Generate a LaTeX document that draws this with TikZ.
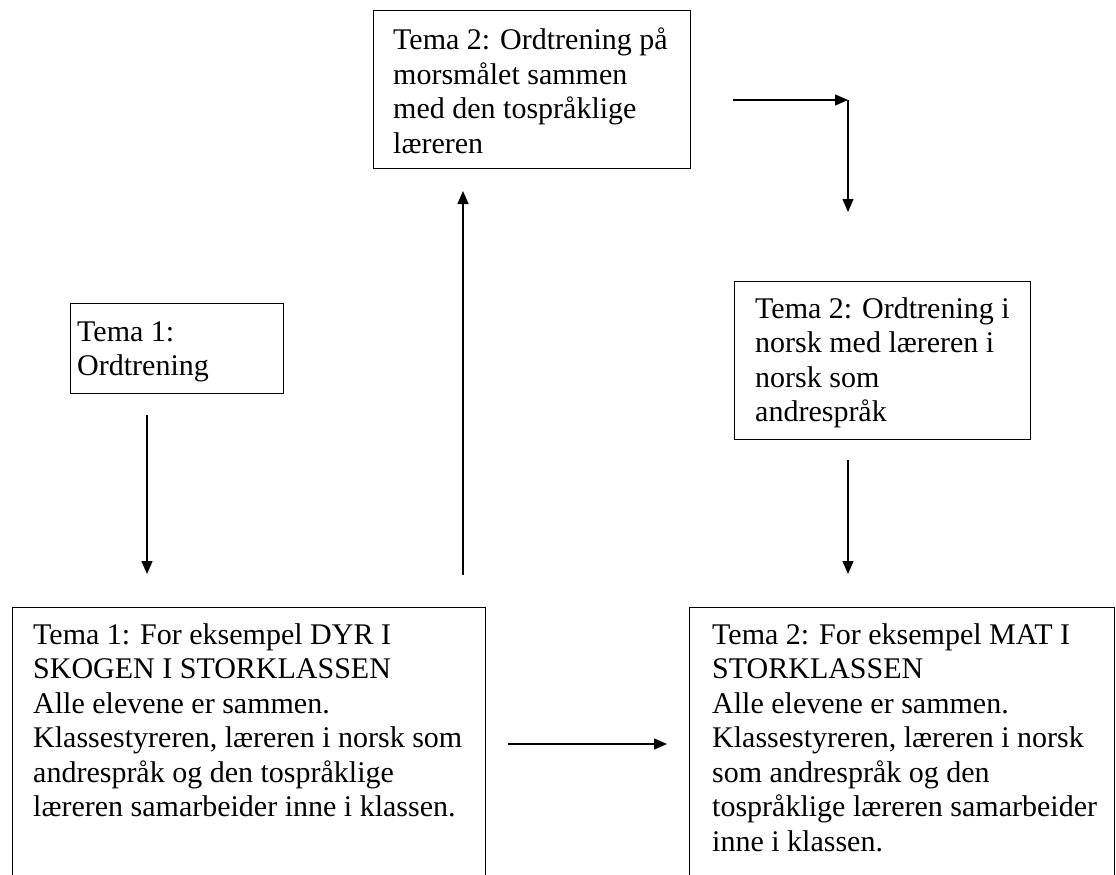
\documentclass[tikz,border=0pt]{standalone}
\usepackage{fontspec}
\setmainfont{Liberation Serif}
\usetikzlibrary{arrows.meta}
\begin{document}
\begin{tikzpicture}[x=1pt,y=-1pt,
  box/.style={draw=black, line width=1.4pt, inner sep=0pt, anchor=north west},
  boxtext/.style={anchor=base west, inner sep=0pt, font=\fontsize{30}{34.5}\selectfont},
  flow/.style={line width=1.4pt, -{Triangle[length=13pt,width=11pt]}}
]
\useasboundingbox (0,0) rectangle (1116,875);

% frames
\node[box, minimum width=317pt, minimum height=158pt] (morsmal) at (373,10) {};
\node[box, minimum width=213pt, minimum height=90pt]  (tema1)   at (70,303) {};
\node[box, minimum width=296pt, minimum height=158pt] (norsk)   at (734,281) {};
\node[box, minimum width=473pt, minimum height=273pt] (dyr)     at (12,607) {};
\node[box, minimum width=425pt, minimum height=273pt] (mat)     at (689,607) {};

% texts
\node[boxtext] (morsmaltxt) at (393,50) {\parbox[t]{400pt}{Tema 2: Ordtrening på\\morsmålet sammen\\med den tospråklige\\læreren}};
\node[boxtext] (tema1txt) at (77,341) {\parbox[t]{400pt}{Tema 1:\\Ordtrening}};
\node[boxtext] (norsktxt) at (755,318) {\parbox[t]{400pt}{Tema 2: Ordtrening i\\norsk med læreren i\\norsk som\\andrespråk}};
\node[boxtext] (dyrtxt) at (33,644) {\parbox[t]{500pt}{Tema 1: For eksempel DYR I\\SKOGEN I STORKLASSEN\\Alle elevene er sammen.\\Klassestyreren, læreren i norsk som\\andrespråk og den tospråklige\\læreren samarbeider inne i klassen.}};
\node[boxtext] (mattxt) at (712,644) {\parbox[t]{500pt}{Tema 2: For eksempel MAT I\\STORKLASSEN\\Alle elevene er sammen.\\Klassestyreren, læreren i norsk\\som andrespråk og den\\tospråklige læreren samarbeider\\inne i klassen.}};

% connector end points
\coordinate (a1s) at (147,415);
\coordinate (a1e) at (147,574);
\coordinate (a2s) at (463,575);
\coordinate (a2e) at (463,191);
\coordinate (a3s) at (733,100);
\coordinate (a3c) at (848,100);
\coordinate (a3e) at (848,212);
\coordinate (a4s) at (848,460);
\coordinate (a4e) at (848,574);
\coordinate (a5s) at (508,744);
\coordinate (a5e) at (667,744);

% connectors
\draw[flow] (a1s) -- (a1e);
\draw[flow] (a2s) -- (a2e);
\draw[flow] (a3s) -- (a3c);
\draw[flow] (a3c) -- (a3e);
\draw[flow] (a4s) -- (a4e);
\draw[flow] (a5s) -- (a5e);
\end{tikzpicture}
\end{document}
